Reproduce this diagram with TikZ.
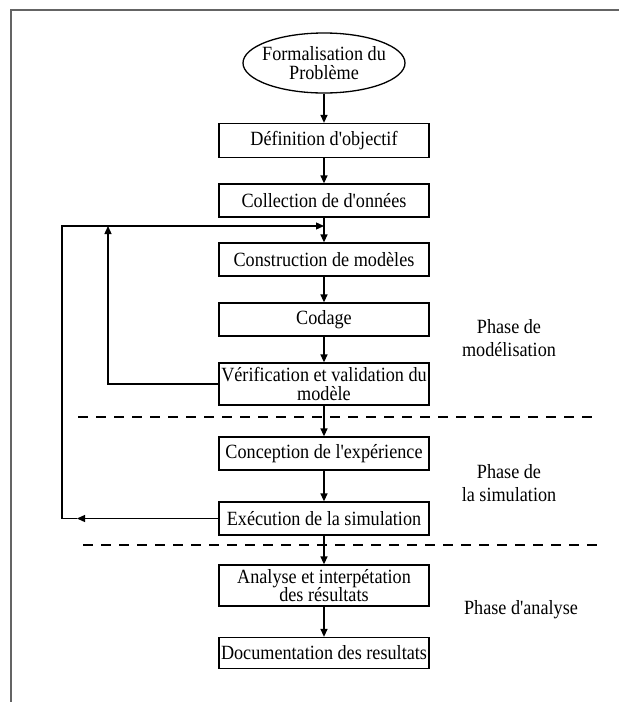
\documentclass[tikz,border=0pt]{standalone}
\usepackage{fontspec}
\setmainfont{Liberation Serif}[Ligatures=TeXOff, FakeStretch=0.9]
\usetikzlibrary{arrows.meta,shapes.geometric}
\definecolor{framegray}{RGB}{100,100,100}
\begin{document}
\begin{tikzpicture}[x=1pt,y=-1pt,
  every node/.style={font=\fontsize{20.2}{18.5}\selectfont, inner sep=0pt},
  stepbox/.style={draw, line width=1.3pt, minimum width=210pt, align=center},
  flow/.style={line width=1.3pt, -{Triangle[length=8pt,width=7pt]}},
  sep/.style={line width=1.3pt, dash pattern=on 10pt off 8pt},
  phase/.style={align=center, font=\fontsize{20.2}{23}\selectfont}]
\useasboundingbox (0,0) rectangle (619,702);
% page frame (left and top edges only)
\draw[line width=2pt, color=framegray] (11,702) -- (11,9.5) -- (619,9.5);

% process steps
\node[draw, ellipse, line width=1.3pt, inner xsep=-6pt, inner ysep=3pt,
      minimum width=162pt, minimum height=60pt, align=center] (fp) at (324,63) {Formalisation du\\Problème};
\node[stepbox, minimum height=34pt] (b1) at (324,140.5) {Définition d'objectif};
\node[stepbox, minimum height=33pt] (b2) at (324,200.5) {Collection de d'onnées};
\node[stepbox, minimum height=33pt] (b3) at (324,259.5) {Construction de modèles};
\node[stepbox, minimum height=33pt] (b4) at (324,319.5) {Codage};
\node[stepbox, minimum height=42pt] (b5) at (324,384) {Vérification et validation du\\modèle};
\node[stepbox, minimum height=33pt] (b6) at (324,453.5) {Conception de l'expérience};
\node[stepbox, minimum height=33pt] (b7) at (324,518.5) {Exécution de la simulation};
\node[stepbox, minimum height=41pt] (b8) at (324,585.5) {Analyse et interpétation\\des résultats};
\node[stepbox, minimum height=31pt] (b9) at (324,653) {Documentation des resultats};

% phase labels
\node[phase] (pm) at (509,338) {Phase de\\modélisation};
\node[phase] (ps) at (509,483) {Phase de\\la simulation};
\node[phase] (pa) at (521,610) {Phase d'analyse};

% phase separators
\draw[sep] (78,417) -- (593,417);
\draw[sep] (83,545) -- (597,545);

% main flow
\draw[flow] (fp.south) -- (b1.north);
\draw[flow] (b1.south) -- (b2.north);
\draw[flow] (b2.south) -- (b3.north);
\draw[flow] (b3.south) -- (b4.north);
\draw[flow] (b4.south) -- (b5.north);
\draw[flow] (b5.south) -- (b6.north);
\draw[flow] (b6.south) -- (b7.north);
\draw[flow] (b7.south) -- (b8.north);
\draw[flow] (b8.south) -- (b9.north);

% feedback loops
\coordinate (jn) at (324,226);
\coordinate (up) at (108,226);
\coordinate (lc) at (62,226);
\coordinate (rt) at (77,518.5);
\draw[flow] (b5.west) -| (up);
\draw[flow] (b7.west) -- (rt);
\draw[flow] (rt) -| (lc) -- (jn);
\end{tikzpicture}
\end{document}
